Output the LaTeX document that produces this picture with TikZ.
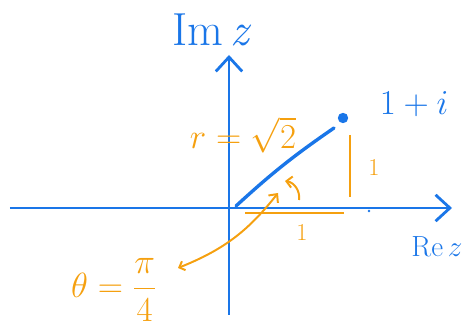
\documentclass[tikz,border=0pt]{standalone}
\usepackage{amsmath}
\usepackage{tikz}
\usetikzlibrary{arrows.meta,positioning,calc}
\definecolor{zbleu}{HTML}{1A76E8}
\definecolor{zorange}{HTML}{F5A00F}
\tikzset{
  axe/.style={draw=zbleu, line width=2.1pt, -{Straight Barb[length=3.6mm,width=6.6mm,line width=2pt]}},
  lbl/.style={text=#1, inner sep=0pt},
  trait/.style={draw=zorange, line width=1.4pt},
  fl/.style={trait, {Straight Barb[length=1.2mm,width=2.4mm]}-{Straight Barb[length=1.6mm,width=3mm]}},
}
\begin{document}
\begin{tikzpicture}
        \useasboundingbox (-5.725,-2.975) rectangle (5.85,5.2);
        \coordinate (xl) at (-5.475,0); \coordinate (xr) at (5.575,0);
        \coordinate (yb) at (0,-2.675); \coordinate (yt) at (0,3.825);
        \draw[axe] (xl) -- (xr);
        \draw[axe] (yb) -- (yt);
        \node[lbl=zbleu, font=\fontsize{33}{35}\selectfont] (im) at (-0.425,4.45) {Im\,\textit{z}};
        \node[lbl=zbleu, font=\fontsize{20}{22}\selectfont] (re) at (5.2,-0.975) {$\mathrm{Re}\,z$};
        % point 1+i
        \node[circle, fill=zbleu, inner sep=0pt, minimum size=0.26cm] (pt) at (2.85,2.25) {};
        \node[lbl=zbleu, font=\fontsize{26}{28}\selectfont] (z) at (4.625,2.6) {$1+i$};
        \coordinate (o) at (0.175,0.05); \coordinate (p) at (2.625,2.0);
        \draw[zbleu, line width=2.4pt, line cap=round] (o) to[bend left=4] (p);
        \fill[zbleu] (3.5,-0.075) circle (0.035);
        % module, cotes
        \node[lbl=zorange, font=\fontsize{23}{25}\selectfont] (r) at (0.35,1.825) {$r=\sqrt{2}$};
        \coordinate (v1) at (3.025,1.825); \coordinate (v2) at (3.025,0.275);
        \coordinate (h1) at (0.4,-0.125); \coordinate (h2) at (2.875,-0.125);
        \draw[trait] (v1) -- (v2);
        \draw[trait] (h1) -- (h2);
        \node[lbl=zorange, font=\fontsize{16}{18}\selectfont] (un1) at (3.625,1.0) {$1$};
        \node[lbl=zorange, font=\fontsize{18}{20}\selectfont] (un2) at (1.825,-0.625) {$1$};
        % argument
        \coordinate (a1) at (1.75,0.2); \coordinate (a2) at (1.4,0.675);
        \draw[trait, -{Straight Barb[length=1.4mm,width=2.8mm]}] (a1) to[bend right=45] (a2);
        \node[lbl=zorange, font=\fontsize{24}{26}\selectfont] (th) at (-2.875,-2.05) {$\theta=\dfrac{\pi}{4}$};
        \coordinate (f1) at (-1.275,-1.5); \coordinate (f2) at (1.225,0.375);
        \draw[fl] (f1) to[bend right=15] (f2);
      \end{tikzpicture}
\end{document}
